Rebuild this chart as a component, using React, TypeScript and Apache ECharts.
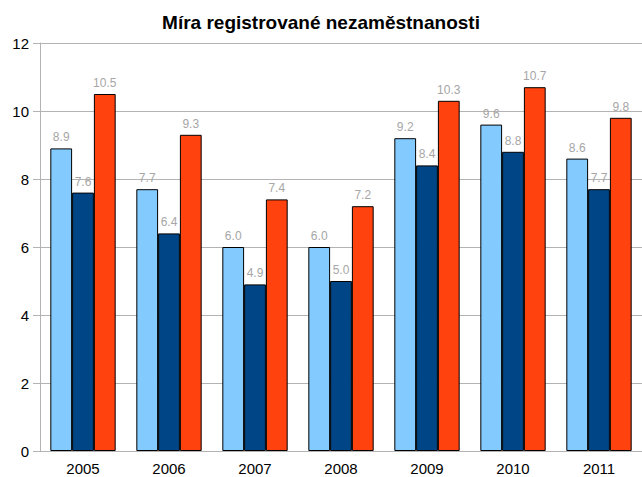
import React, { useEffect, useRef } from "react";
import * as echarts from "echarts";

const categories = ["2005", "2006", "2007", "2008", "2009", "2010", "2011"];
const seriesA = [8.9, 7.7, 6.0, 6.0, 9.2, 9.6, 8.6];
const seriesB = [7.6, 6.4, 4.9, 5.0, 8.4, 8.8, 7.7];
const seriesC = [10.5, 9.3, 7.4, 7.2, 10.3, 10.7, 9.8];
const colors = ["#83caff", "#004586", "#ff420e"];
const titleText = "Míra registrované nezaměstnanosti";

export default function App() {
  const ref = useRef<HTMLDivElement>(null);
  useEffect(() => {
    document.body.style.margin = "0";
    const chart = echarts.init(ref.current!, null, { renderer: "svg" });
    const font = "'Liberation Sans', Arial, sans-serif";
    const mk = (data: number[], i: number) => ({
      type: "bar",
      data,
      barGap: "0%",
      barCategoryGap: "24%",
      itemStyle: { color: colors[i], borderColor: "#000", borderWidth: 1 },
      label: {
        show: true,
        position: "top",
        distance: 5,
        color: "#a6a6a6",
        fontSize: 12,
        fontFamily: font,
        formatter: (p: any) => Number(p.value).toFixed(1),
      },
    });
    chart.setOption({
      animation: false,
      textStyle: { fontFamily: font },
      title: {
        text: titleText,
        left: "center",
        top: 8,
        textStyle: { fontSize: 19, fontWeight: "bold", color: "#000", fontFamily: font },
      },
      grid: { left: 40, right: 0, top: 43, bottom: 26, containLabel: false },
      xAxis: {
        type: "category",
        data: categories,
        axisLine: { lineStyle: { color: "#b3b3b3" } },
        axisTick: { alignWithLabel: true, length: 7, lineStyle: { color: "#b3b3b3" } },
        axisLabel: { color: "#000", fontSize: 15, margin: 10, fontFamily: font },
      },
      yAxis: {
        type: "value",
        min: 0,
        max: 12,
        interval: 2,
        axisLine: { show: true, lineStyle: { color: "#b3b3b3" } },
        axisTick: { show: true, length: 7, lineStyle: { color: "#b3b3b3" } },
        axisLabel: { color: "#000", fontSize: 15, margin: 11, fontFamily: font },
        splitLine: { lineStyle: { color: "#b3b3b3" } },
      },
      series: [mk(seriesA, 0), mk(seriesB, 1), mk(seriesC, 2)],
    });
    return () => chart.dispose();
  }, []);
  return <div ref={ref} style={{ width: 642, height: 477 }} />;
}
